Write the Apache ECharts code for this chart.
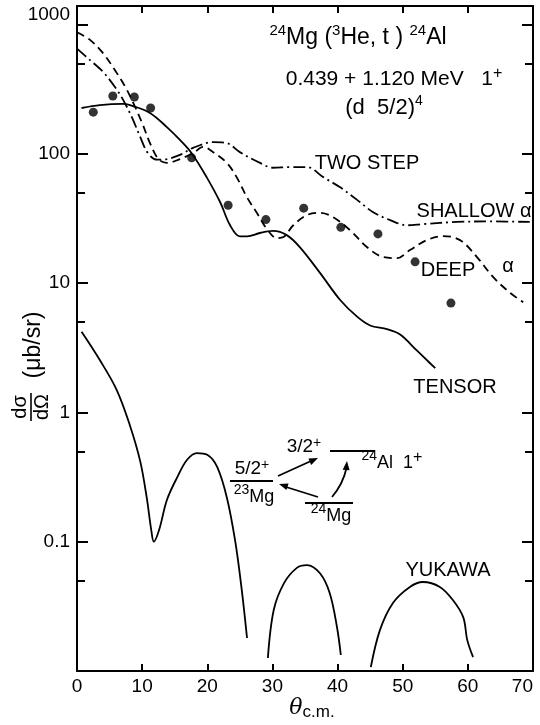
<!DOCTYPE html>
<html><head><meta charset="utf-8">
<script src="https://cdn.jsdelivr.net/npm/echarts@6/dist/echarts.min.js"></script>
<style>html,body{margin:0;padding:0;background:#fff}#c{width:540px;height:725px}</style>
</head><body><div id="c"></div>
<script>
// ---- data ----
const xTickValues = [0, 10, 20, 30, 40, 50, 60, 70];
const yMajorTicks = [0.01, 0.1, 1, 10, 100, 1000];
const yMinorTicks = [0.05, 0.5, 5, 50, 500];
const yLabelValues = [0.1, 1, 10, 100, 1000];

const expAngles = [2.5, 5.5, 8.8, 11.3, 17.6, 23.2, 29.0, 34.8, 40.5, 46.2, 51.9, 57.4];
const expValues = [210, 280, 275, 226, 93, 40, 31, 38, 27, 24, 14.6, 7.0];

const tensorAngles = [0.7, 3.5, 7.1, 8.6, 11.2, 13.8, 15.8, 17.6, 19.9, 22, 23.5, 25, 26.1, 28.1, 30.1, 32.2, 34.2, 37.3, 40.4, 43, 45, 47.6, 49.6, 52.2, 54.2, 55];
const tensorValues = [226, 238, 243, 234, 207, 161, 128, 101, 66, 42, 28, 23, 23, 24.4, 25.3, 23.5, 19, 12, 7.4, 5.5, 4.7, 4.4, 4.0, 3.0, 2.4, 2.2];

const deepAngles = [0, 2, 4, 5.8, 7.4, 8.6, 10, 11.2, 12.5, 13.8, 15.8, 17.8, 19.4, 20.9, 23, 24.5, 26.1, 27.6, 29.2, 30.7, 31.7, 33.2, 35.3, 37.3, 39.3, 41.9, 44.5, 47, 49.1, 51.1, 53.7, 56.2, 58.8, 61.4, 63.9, 66.5, 68.5];
const deepValues = [870, 760, 600, 445, 330, 250, 173, 121, 91, 85, 91, 101, 113, 103, 85, 66, 46, 35, 26, 22.3, 22.7, 28, 33.6, 35, 32.4, 25.7, 19, 15.9, 15.6, 18, 21.5, 23.1, 21.5, 15.9, 11.1, 8.4, 7.1];

const twoStepAngles = [0, 2, 4, 5.8, 7.1, 8.4, 9.7, 10.9, 12.3, 13.8, 15.8, 17.8, 20.9, 23, 25, 28.1, 30.1, 32.7, 35.3, 37.8, 40.4, 43, 45.4, 48, 50.7, 53.1, 58.3, 63.4, 69.5];
const twoStepValues = [650, 530, 430, 330, 260, 193, 135, 101, 90, 91, 98, 111, 123, 121, 103, 85, 78, 79, 79, 66, 55, 44, 35.5, 30.8, 28, 28.6, 29.7, 30, 29.7];

const yukawa1Angles = [0.7, 3.5, 6.1, 8.1, 9.7, 10.7, 11.4, 11.8, 12.6, 13.8, 15.4, 16.9, 18.4, 20, 21.5, 23, 24.3, 25.3, 26.1];
const yukawa1Values = [4.2, 2.54, 1.49, 0.8, 0.42, 0.22, 0.123, 0.1, 0.123, 0.21, 0.316, 0.43, 0.485, 0.47, 0.38, 0.22, 0.1, 0.042, 0.018];
const yukawa2Angles = [29.3, 30.2, 31.8, 33.8, 35.3, 37.3, 38.8, 39.9, 40.5];
const yukawa2Values = [0.0126, 0.0296, 0.048, 0.063, 0.066, 0.057, 0.04, 0.022, 0.0133];
const yukawa3Angles = [45.1, 46.5, 48.5, 51.1, 53.1, 55.7, 57.7, 59.3, 59.9, 60.8];
const yukawa3Values = [0.0107, 0.0207, 0.0336, 0.0447, 0.0488, 0.0447, 0.0354, 0.026, 0.0174, 0.0128];

// ---- chart ----
const FONT = 'Liberation Sans';
const zip = (a, b) => a.map((v, i) => [v, b[i]]);
const chart = echarts.init(document.getElementById('c'));

function lineSeries(ax, vals, dash) {
  return { type: 'line', symbol: 'none', smooth: 0.35, silent: true, data: zip(ax, vals),
    lineStyle: { color: '#000', width: 1.8, type: dash || 'solid' } };
}

function yAxisDef(pos, major, withLabels) {
  return {
    type: 'log', logBase: 10, min: 0.01, max: 1390, position: pos,
    splitLine: { show: false },
    axisLine: { show: major, lineStyle: { color: '#000', width: 2 } },
    axisTick: { show: true, inside: true, length: major ? 11 : 8,
      customValues: major ? yMajorTicks : yMinorTicks,
      lineStyle: { color: '#000', width: 2 } },
    axisLabel: withLabels ? {
      show: true, customValues: yLabelValues, margin: 7, color: '#000',
      fontSize: 19, fontFamily: FONT,
      rich: { up: { fontSize: 19, fontFamily: FONT, color: '#000', padding: [0, 0, 20, 0] } },
      formatter: v => {
        const l = Math.log10(v);
        if (Math.abs(l - Math.round(l)) > 1e-6 || l < -1.5) return '';
        const s = String(+v.toPrecision(3));
        return Math.round(l) === 3 ? '{up|' + s + '}' : s;
      }
    } : { show: false }
  };
}
function xAxisDef(pos, labels) {
  return {
    type: 'value', min: 0, max: 70, interval: 10, position: pos,
    splitLine: { show: false },
    axisLine: { show: true, onZero: false, lineStyle: { color: '#000', width: 2 } },
    axisTick: { show: true, inside: true, length: 7, lineStyle: { color: '#000', width: 2 } },
    axisLabel: labels ? { show: true, margin: 6, color: '#000', fontSize: 19, fontFamily: FONT, alignMaxLabel: 'right' } : { show: false }
  };
}

const txt = (x, y, text, size, extra) => ({ type: 'text', x, y, silent: true,
  style: Object.assign({ text, fontSize: size, fontFamily: FONT, fill: '#000', align: 'center', verticalAlign: 'middle' }, extra || {}) });
const seg = (x1, y1, x2, y2) => ({ type: 'line', silent: true, shape: { x1, y1, x2, y2 }, style: { stroke: '#000', lineWidth: 1.8 } });
const tri = pts => ({ type: 'polygon', silent: true, shape: { points: pts }, style: { fill: '#000' } });

const supRich = (n, s) => ({
  n: { fontSize: n, fontFamily: FONT, lineHeight: n + 6 },
  s: { fontSize: s, fontFamily: FONT, verticalAlign: 'top', lineHeight: n + 6 }
});
const levRich = {
  n: { fontSize: 18, fontFamily: FONT, verticalAlign: 'bottom', lineHeight: 23 },
  s: { fontSize: 14, fontFamily: FONT, verticalAlign: 'top', lineHeight: 23 },
  t: { fontSize: 16, fontFamily: FONT, verticalAlign: 'top', lineHeight: 23 }
};
const fracRich = {
  n: { fontSize: 19, fontFamily: FONT, lineHeight: 21 },
  s: { fontSize: 14, fontFamily: FONT, verticalAlign: 'top', lineHeight: 21 }
};

const option = {
  animation: false,
  backgroundColor: '#fff',
  grid: { left: 77, right: 7, top: 6, bottom: 54, containLabel: false, outerBoundsMode: 'none' },
  xAxis: [xAxisDef('bottom', true), xAxisDef('top', false)],
  yAxis: [yAxisDef('left', true, true), yAxisDef('left', false, false),
          yAxisDef('right', true, false), yAxisDef('right', false, false)],
  series: [
    lineSeries(tensorAngles, tensorValues),
    lineSeries(deepAngles, deepValues, [8, 5]),
    lineSeries(twoStepAngles, twoStepValues, [12, 4, 2, 4]),
    lineSeries(yukawa1Angles, yukawa1Values),
    lineSeries(yukawa2Angles, yukawa2Values),
    lineSeries(yukawa3Angles, yukawa3Values),
    { type: 'scatter', data: zip(expAngles, expValues), symbol: 'circle', symbolSize: 9,
      itemStyle: { color: '#000' }, silent: true }
  ],
  graphic: [
    // reaction title
    txt(358, 38, '{s|24}{n|Mg (}{s|3}{n|He, t ) }{s|24}{n|Al}', 23, { rich: supRich(23, 15) }),
    txt(394, 79, '{n|0.439 + 1.120 MeV   1}{s|+}', 21, { rich: supRich(21, 16) }),
    txt(384, 108, '{n|(d  5/2)}{s|4}', 22, { rich: supRich(22, 14) }),
    // curve labels
    txt(367, 163, 'TWO STEP', 20),
    txt(474, 211, 'SHALLOW α', 20),
    txt(448, 270, 'DEEP', 20),
    txt(508, 266, 'α', 20),
    txt(455, 387, 'TENSOR', 20),
    txt(448, 570, 'YUKAWA', 20),
    // level scheme
    seg(230, 481, 273, 481),
    txt(252, 469, '{n|5/2}{s|+}', 19, { rich: fracRich }),
    txt(254, 495, '{s|23}{n|Mg}', 18, { rich: levRich }),
    seg(330, 451, 375, 451),
    txt(304, 447, '{n|3/2}{s|+}', 19, { rich: fracRich }),
    txt(392, 461, '{s|24}{n|Al  1}{t|+}', 18, { rich: levRich }),
    seg(305, 503, 353, 503),
    txt(331, 514, '{s|24}{n|Mg}', 18, { rich: levRich }),
    seg(278, 476, 311, 461),
    tri([[318, 458], [311.2, 464.9], [308.4, 458.5]]),
    seg(318, 497, 286, 487),
    tri([[279, 484], [288.6, 483.5], [286.4, 490.1]]),
    { type: 'bezierCurve', silent: true, shape: { x1: 332, y1: 497, cpx1: 343, cpy1: 484, x2: 346.5, y2: 468 }, style: { stroke: '#000', lineWidth: 1.8, fill: null } },
    tri([[347, 461], [349.6, 470.3], [342.6, 469.7]]),
    // x axis title
    txt(312, 709, '{t|θ}{c|c.m.}', 20, { rich: { t: { fontSize: 22, fontFamily: 'DejaVu Serif', fontStyle: 'italic', verticalAlign: 'top', lineHeight: 24 }, c: { fontSize: 17, fontFamily: FONT, verticalAlign: 'bottom', lineHeight: 24 } } }),
    // y axis title (rotated)
    { type: 'group', x: 31, y: 407, rotation: Math.PI / 2, silent: true, children: [
      { type: 'line', shape: { x1: -14, y1: 0, x2: 14, y2: 0 }, style: { stroke: '#000', lineWidth: 1.6 } },
      { type: 'text', x: 0, y: -1, style: { text: 'dσ', fontSize: 20, fontFamily: FONT, fill: '#000', align: 'center', verticalAlign: 'bottom' } },
      { type: 'text', x: 0, y: 1, style: { text: 'dΩ', fontSize: 20, fontFamily: FONT, fill: '#000', align: 'center', verticalAlign: 'top' } },
      { type: 'text', x: 62, y: 3, style: { text: '(μb/sr)', fontSize: 23, fontFamily: FONT, fill: '#000', align: 'center', verticalAlign: 'middle' } }
    ] }
  ]
};
chart.setOption(option);
</script>
</body></html>
